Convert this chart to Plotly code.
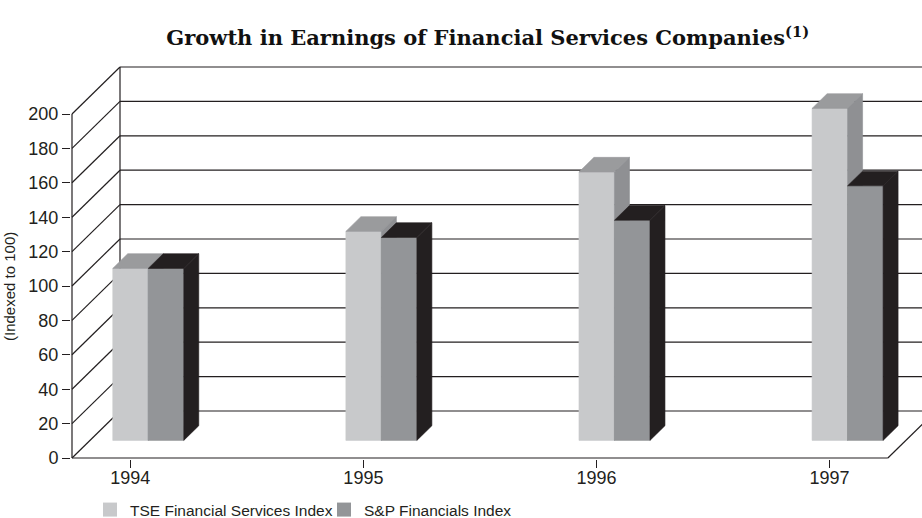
import plotly.graph_objects as go

# ---- data ----
years = ["1994", "1995", "1996", "1997"]
tse_values = [100, 121.5, 156, 193]
sp_values = [100, 118, 128, 148]
y_ticks = [0, 20, 40, 60, 80, 100, 120, 140, 160, 180, 200]
series_names = ["TSE Financial Services Index", "S&P Financials Index"]

# ---- style / geometry ----
INK = "#231f20"
TSE_FRONT, TSE_TOP, TSE_SIDE = "#c8c9cb", "#9a9b9d", "#8f9093"
SP_FRONT, SP_TOP, SP_SIDE = "#939598", INK, INK

PX_PER_CAT = 233.1
PX_PER_VAL = 1.72
DX = 48 / PX_PER_CAT          # depth shift in x (category units) for full depth
DY = 47 / PX_PER_VAL          # depth shift in y (value units) for full depth
F0, F1 = 0.375, 0.6875        # bar front / back depth fractions
BW = 35.5 / PX_PER_CAT        # bar width
X0, X1 = -0.25, len(years) - 0.75   # floor extent


def proj(x, v, f):
    return x + f * DX, v + f * DY


fig = go.Figure()

# ---- walls and grid ----
gx, gy = [], []


def seg(p, q):
    gx.extend([p[0], q[0], None])
    gy.extend([p[1], q[1], None])


ymax = y_ticks[-1]
seg(proj(X0, 0, 0), proj(X0, ymax, 0))       # front vertical axis line
seg(proj(X0, 0, 1), proj(X0, ymax, 1))       # back wall left edge
for t in y_ticks:
    seg(proj(X0, t, 0), proj(X0, t, 1))      # left wall diagonal
    seg(proj(X0, t, 1), proj(X1, t, 1))      # back wall line
seg(proj(X0, 0, 0), proj(X1, 0, 0))          # floor front edge
seg(proj(X1, 0, 0), proj(X1, 0, 1))          # floor right edge

fig.add_trace(go.Scatter(x=gx, y=gy, mode="lines",
                         line=dict(color=INK, width=1.2),
                         hoverinfo="skip", showlegend=False))


def poly(pts, color):
    xs = [p[0] for p in pts] + [pts[0][0]]
    ys = [p[1] for p in pts] + [pts[0][1]]
    fig.add_trace(go.Scatter(x=xs, y=ys, mode="lines", fill="toself",
                             fillcolor=color,
                             line=dict(color=color, width=0.6),
                             hoverinfo="skip", showlegend=False))


def bar(xl, v, front, top, side):
    xr = xl + BW
    poly([proj(xl, 0, F0), proj(xr, 0, F0), proj(xr, v, F0), proj(xl, v, F0)], front)
    poly([proj(xl, v, F0), proj(xr, v, F0), proj(xr, v, F1), proj(xl, v, F1)], top)
    poly([proj(xr, 0, F0), proj(xr, 0, F1), proj(xr, v, F1), proj(xr, v, F0)], side)


for i in range(len(years)):
    bar(i - BW, tse_values[i], TSE_FRONT, TSE_TOP, TSE_SIDE)
    bar(i, sp_values[i], SP_FRONT, SP_TOP, SP_SIDE)

# ---- legend entries ----
for name, col in zip(series_names, [TSE_FRONT, SP_FRONT]):
    fig.add_trace(go.Scatter(x=[None], y=[None], mode="markers", name=name,
                             marker=dict(symbol="square", size=14, color=col,
                                         line=dict(width=0))))

L, R, T, B = 71, 0, 60, 59
W, H = 922, 518
plot_w = W - L - R
plot_h = H - T - B
x_start = X0 - 1 / PX_PER_CAT
y_start = -1 / PX_PER_VAL

fig.update_layout(
    width=W, height=H,
    margin=dict(l=L, r=R, t=T, b=B, autoexpand=False),
    paper_bgcolor="white", plot_bgcolor="white",
    font=dict(family="Liberation Sans, Arial, sans-serif", color=INK),
    title=dict(
        text="<b>Growth in Earnings of Financial Services Companies<sup>(1)</sup></b>",
        font=dict(family="DejaVu Serif, serif", size=21, color="#111"),
        x=0.529, xanchor="center", xref="container",
        y=1 - 38 / H, yanchor="middle", yref="container"),
    xaxis=dict(range=[x_start, x_start + plot_w / PX_PER_CAT],
               tickmode="array", tickvals=list(range(len(years))), ticktext=years,
               ticks="outside", ticklen=8, tickwidth=1.2, tickcolor=INK,
               ticklabelstandoff=-6,
               showgrid=False, zeroline=False, showline=False,
               tickfont=dict(size=18, color=INK), fixedrange=True),
    yaxis=dict(range=[y_start, y_start + plot_h / PX_PER_VAL],
               tickmode="array", tickvals=y_ticks,
               ticks="outside", ticklen=8, tickwidth=1.2, tickcolor=INK,
               showgrid=False, zeroline=False, showline=False,
               tickfont=dict(size=18, color=INK), fixedrange=True),
    legend=dict(orientation="h", x=(90 - L) / plot_w, xanchor="left",
                y=(H - B - H - 9) / plot_h, yanchor="bottom",
                font=dict(size=15.5, color=INK), entrywidth=189,
                bgcolor="rgba(0,0,0,0)"),
    annotations=[dict(text="(Indexed to 100)", textangle=-90,
                      xref="paper", yref="paper",
                      x=(9 - L) / plot_w, y=(H - B - 286) / plot_h,
                      xanchor="center", yanchor="middle", showarrow=False,
                      font=dict(size=15, color=INK))],
)

fig.write_html("out.html")
